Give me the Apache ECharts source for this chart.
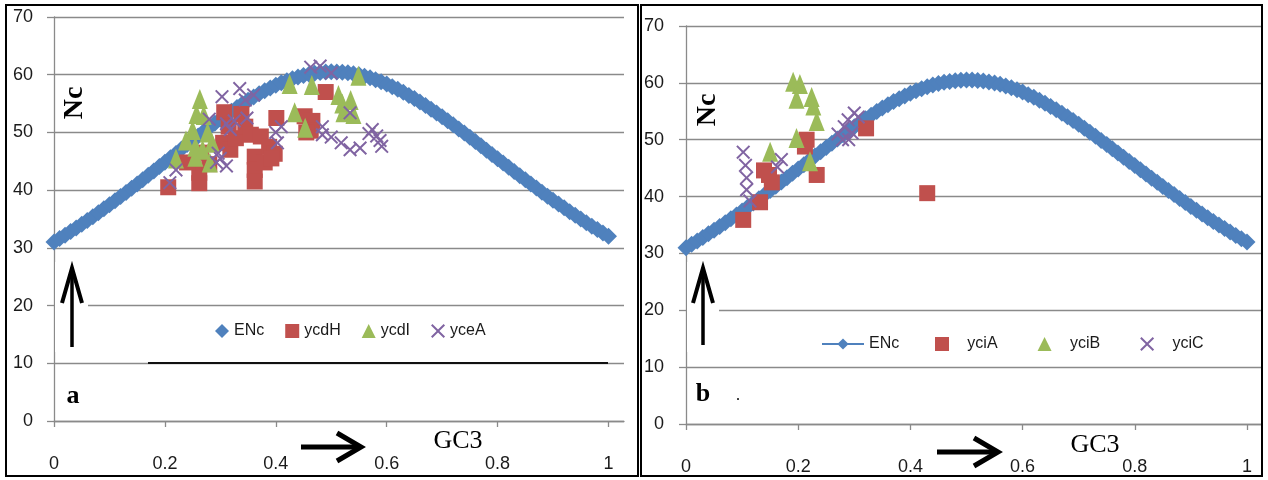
<!DOCTYPE html>
<html>
<head>
<meta charset="utf-8">
<script src="https://cdn.jsdelivr.net/npm/echarts@6/dist/echarts.min.js"></script>
<style>
html,body{margin:0;padding:0;background:#fff;}
#c{width:1268px;height:480px;}
</style>
</head>
<body>
<div id="c"></div>
<script>
// ---- data ----
const ENC_GC3 = [0,0.01,0.02,0.03,0.04,0.05,0.06,0.07,0.08,0.09,0.1,0.11,0.12,0.13,0.14,0.15,0.16,0.17,0.18,0.19,0.2,0.21,0.22,0.23,0.24,0.25,0.26,0.27,0.28,0.29,0.3,0.31,0.32,0.33,0.34,0.35,0.36,0.37,0.38,0.39,0.4,0.41,0.42,0.43,0.44,0.45,0.46,0.47,0.48,0.49,0.5,0.51,0.52,0.53,0.54,0.55,0.56,0.57,0.58,0.59,0.6,0.61,0.62,0.63,0.64,0.65,0.66,0.67,0.68,0.69,0.7,0.71,0.72,0.73,0.74,0.75,0.76,0.77,0.78,0.79,0.8,0.81,0.82,0.83,0.84,0.85,0.86,0.87,0.88,0.89,0.9,0.91,0.92,0.93,0.94,0.95,0.96,0.97,0.98,0.99,1];
const ENC_NC = [31.0,31.6,32.2,32.82,33.45,34.09,34.75,35.41,36.09,36.77,37.47,38.17,38.89,39.61,40.34,41.08,41.82,42.57,43.33,44.09,44.85,45.61,46.37,47.14,47.9,48.65,49.4,50.14,50.87,51.59,52.3,52.99,53.67,54.32,54.95,55.56,56.14,56.7,57.22,57.71,58.17,58.59,58.97,59.32,59.62,59.88,60.09,60.26,60.39,60.47,60.5,60.49,60.43,60.32,60.17,59.98,59.74,59.46,59.13,58.77,58.37,57.93,57.46,56.96,56.42,55.86,55.27,54.66,54.03,53.37,52.7,52.01,51.31,50.6,49.88,49.15,48.42,47.68,46.93,46.19,45.45,44.71,43.97,43.23,42.5,41.78,41.06,40.35,39.65,38.95,38.27,37.59,36.93,36.27,35.63,34.99,34.37,33.76,33.16,32.58,32.0];

// panel a
const ycdH = [[0.206,40.5],[0.262,41.2],[0.262,43.0],[0.240,44.8],[0.280,44.5],[0.265,46.5],
  [0.307,53.5],[0.315,51.0],[0.305,48.2],[0.318,47.0],[0.328,49.0],
  [0.338,53.2],[0.345,51.0],[0.355,49.6],[0.373,49.3],[0.362,45.8],[0.362,43.5],[0.362,41.5],
  [0.380,44.8],[0.388,47.5],[0.398,46.3],[0.401,52.5],[0.392,45.5],
  [0.452,52.8],[0.466,52.0],[0.463,50.3],[0.455,50.0],[0.490,57.0]];
const ycdI = [[0.220,45.5],[0.263,55.8],[0.257,53.2],[0.250,50.4],[0.238,48.6],[0.255,47.5],[0.255,45.8],
  [0.270,53.0],[0.277,50.0],[0.285,48.2],[0.281,44.8],[0.268,47.0],
  [0.425,58.4],[0.465,58.2],[0.434,53.5],[0.453,50.8],[0.549,59.8],[0.513,56.5],[0.520,55.0],
  [0.535,55.6],[0.522,53.5],[0.540,53.2]];
const yceA = [[0.209,41.3],[0.220,43.5],[0.296,46.4],[0.293,44.8],[0.311,44.2],[0.300,45.5],
  [0.280,52.3],[0.303,56.2],[0.311,51.5],[0.325,52.0],[0.335,57.6],[0.345,55.6],[0.360,56.5],[0.348,52.5],[0.318,50.5],
  [0.400,50.0],[0.403,48.2],[0.410,51.0],
  [0.463,61.3],[0.480,61.5],[0.500,60.3],
  [0.484,49.6],[0.500,49.2],[0.484,51.0],[0.518,48.2],[0.534,47.0],[0.552,47.3],[0.534,53.4],
  [0.574,50.5],[0.582,49.4],[0.591,47.6],[0.588,48.6],[0.568,49.8]];

// panel b
const yciA = [[0.102,35.9],[0.132,39.0],[0.139,44.6],[0.153,42.5],[0.148,43.8],[0.215,50.0],[0.212,48.8],[0.233,43.8],[0.321,52.0],[0.430,40.6]];
const yciB = [[0.191,60.2],[0.203,59.8],[0.197,57.2],[0.224,57.5],[0.227,56.0],[0.233,53.3],[0.197,50.3],[0.150,47.9],[0.221,46.2]];
const yciC = [[0.102,47.8],[0.106,45.5],[0.108,43.3],[0.108,41.2],[0.114,39.2],[0.170,46.5],[0.163,45.2],
  [0.271,51.0],[0.282,52.3],[0.289,53.5],[0.300,54.7],[0.307,54.0],[0.279,50.0],[0.290,50.0],[0.296,51.2]];

const X_TICKS = [0,0.2,0.4,0.6,0.8,1];
const Y_MIN = 0, Y_MAX = 70, Y_STEP = 10;

// ---- chart ----
const BLUE = '#4F81BD', RED = '#C0504D', GREEN = '#9BBB59', PURPLE = '#8064A2';
const XSYM = 'path://M0,1L1,0L5,4L9,0L10,1L6,5L10,9L9,10L5,6L1,10L0,9L4,5Z';
const encPairs = ENC_GC3.map((g, i) => [g, ENC_NC[i]]);
const TXT = '#1a1a1a';
const GRIDC = '#8a8a8a';
const LEGEND_FONT = {fontSize: 16, fontFamily: 'Liberation Sans', color: TXT};

function xAxis(idx, max) {
  return {
    type: 'value', gridIndex: idx, min: 0, max: max,
    splitLine: {show: false},
    axisLine: {show: true, onZero: false, lineStyle: {color: GRIDC, width: 1.3}},
    axisTick: {show: true, customValues: X_TICKS, length: 6, lineStyle: {color: GRIDC, width: 1.3}},
    axisLabel: {customValues: X_TICKS, margin: 34, fontSize: 18, fontFamily: 'Liberation Sans', color: TXT}
  };
}
function yAxis(idx, margin) {
  return {
    type: 'value', gridIndex: idx, min: Y_MIN, max: Y_MAX, interval: Y_STEP,
    axisLine: {show: true, lineStyle: {color: GRIDC, width: 1.3}},
    axisTick: {show: true, length: 7, lineStyle: {color: GRIDC, width: 1.3}},
    splitLine: {show: true, lineStyle: {color: GRIDC, width: 1.3}},
    axisLabel: {margin: margin, fontSize: 18, fontFamily: 'Liberation Sans', color: TXT}
  };
}
function scat(name, data, idx, sym, size, color, z) {
  return {
    type: 'scatter', name: name, data: data, xAxisIndex: idx, yAxisIndex: idx,
    symbol: sym, symbolSize: size, itemStyle: {color: color, opacity: 1}, z: z
  };
}

const option = {
  animation: false,
  backgroundColor: '#fff',
  grid: [
    {left: 54, top: 17, width: 570, height: 404},
    {left: 686, top: 26, width: 575, height: 398}
  ],
  xAxis: [xAxis(0, 1.028), xAxis(1, 1.025)],
  yAxis: [yAxis(0, 21), yAxis(1, 22)],
  legend: [
    {
      left: 215, top: 323, padding: 0, itemWidth: 14, itemHeight: 14, itemGap: 21,
      data: ['ENc', 'ycdH', 'ycdI', 'yceA'],
      textStyle: LEGEND_FONT
    },
    {
      left: 821, top: 336, padding: 0, itemWidth: 42, itemHeight: 14,
      data: ['ENc '],
      formatter: n => n.trim(),
      textStyle: LEGEND_FONT
    },
    {
      left: 935, top: 336, padding: 0, itemWidth: 14, itemHeight: 14, itemGap: 40,
      data: ['yciA', 'yciB', 'yciC'],
      formatter: n => '   ' + n,
      textStyle: LEGEND_FONT
    }
  ],
  series: [
    scat('ENc', encPairs, 0, 'diamond', 17, BLUE, 2),
    scat('ycdH', ycdH, 0, 'rect', 16, RED, 3),
    scat('ycdI', ycdI, 0, 'triangle', [16, 20], GREEN, 4),
    scat('yceA', yceA, 0, XSYM, 14, PURPLE, 5),
    {
      type: 'line', name: 'ENc ', data: encPairs, xAxisIndex: 1, yAxisIndex: 1,
      symbol: 'diamond', symbolSize: 17, showAllSymbol: true,
      lineStyle: {color: BLUE, width: 3}, itemStyle: {color: BLUE}, z: 2
    },
    scat('yciA', yciA, 1, 'rect', 16, RED, 3),
    scat('yciB', yciB, 1, 'triangle', [16, 20], GREEN, 4),
    scat('yciC', yciC, 1, XSYM, 14, PURPLE, 5)
  ],
  graphic: [
    // panel frames
    {type: 'rect', shape: {x: 6, y: 5, width: 632, height: 471}, style: {fill: 'none', stroke: '#000', lineWidth: 2}, z: 100},
    {type: 'rect', shape: {x: 641, y: 5, width: 621, height: 471}, style: {fill: 'none', stroke: '#000', lineWidth: 2}, z: 100},
    // white backgrounds behind up arrows
    {type: 'rect', shape: {x: 55, y: 262, width: 33, height: 90}, style: {fill: '#fff'}, z: 50},
    {type: 'rect', shape: {x: 687, y: 262, width: 32, height: 90}, style: {fill: '#fff'}, z: 50},
    // up arrows
    {type: 'polyline', shape: {points: [[72, 347], [72, 271]]}, style: {stroke: '#000', lineWidth: 3.5, fill: 'none'}, z: 60},
    {type: 'polyline', shape: {points: [[62, 303], [72, 268], [82, 303]]}, style: {stroke: '#000', lineWidth: 4, fill: 'none', lineJoin: 'miter'}, z: 60},
    {type: 'polyline', shape: {points: [[703, 345], [703, 271]]}, style: {stroke: '#000', lineWidth: 3.5, fill: 'none'}, z: 60},
    {type: 'polyline', shape: {points: [[693, 303], [703, 268], [713, 303]]}, style: {stroke: '#000', lineWidth: 4, fill: 'none', lineJoin: 'miter'}, z: 60},
    // right arrows
    {type: 'polyline', shape: {points: [[301, 447], [359, 447]]}, style: {stroke: '#000', lineWidth: 5, fill: 'none'}, z: 60},
    {type: 'polyline', shape: {points: [[337, 433], [361, 447], [337, 461]]}, style: {stroke: '#000', lineWidth: 5, fill: 'none', lineJoin: 'miter'}, z: 60},
    {type: 'polyline', shape: {points: [[937, 452], [996, 452]]}, style: {stroke: '#000', lineWidth: 5, fill: 'none'}, z: 60},
    {type: 'polyline', shape: {points: [[974, 438], [998, 452], [974, 466]]}, style: {stroke: '#000', lineWidth: 5, fill: 'none', lineJoin: 'miter'}, z: 60},
    // black line on 10 gridline (panel a)
    {type: 'line', shape: {x1: 148, y1: 363, x2: 608, y2: 363}, style: {stroke: '#111', lineWidth: 2.2}, z: 60},
    // texts
    {type: 'text', x: 75, y: 103, rotation: Math.PI / 2, style: {text: 'Nc', font: 'bold 28px "Liberation Serif"', fill: '#000', align: 'center', verticalAlign: 'middle'}, z: 60},
    {type: 'text', x: 708, y: 110, rotation: Math.PI / 2, style: {text: 'Nc', font: 'bold 28px "Liberation Serif"', fill: '#000', align: 'center', verticalAlign: 'middle'}, z: 60},
    {type: 'text', x: 458, y: 441, style: {text: 'GC3', font: '26px "Liberation Serif"', fill: '#000', align: 'center', verticalAlign: 'middle'}, z: 60},
    {type: 'text', x: 1095, y: 445, style: {text: 'GC3', font: '26px "Liberation Serif"', fill: '#000', align: 'center', verticalAlign: 'middle'}, z: 60},
    {type: 'text', x: 73, y: 396, style: {text: 'a', font: 'bold 26px "Liberation Serif"', fill: '#000', align: 'center', verticalAlign: 'middle'}, z: 60},
    {type: 'text', x: 703, y: 394, style: {text: 'b', font: 'bold 26px "Liberation Serif"', fill: '#000', align: 'center', verticalAlign: 'middle'}, z: 60},
    {type: 'text', x: 738, y: 396, style: {text: '.', font: '16px "Liberation Serif"', fill: '#000', align: 'center', verticalAlign: 'middle'}, z: 60}
  ]
};

const chart = echarts.init(document.getElementById('c'), null, {renderer: 'canvas'});
chart.setOption(option);
</script>
</body>
</html>
